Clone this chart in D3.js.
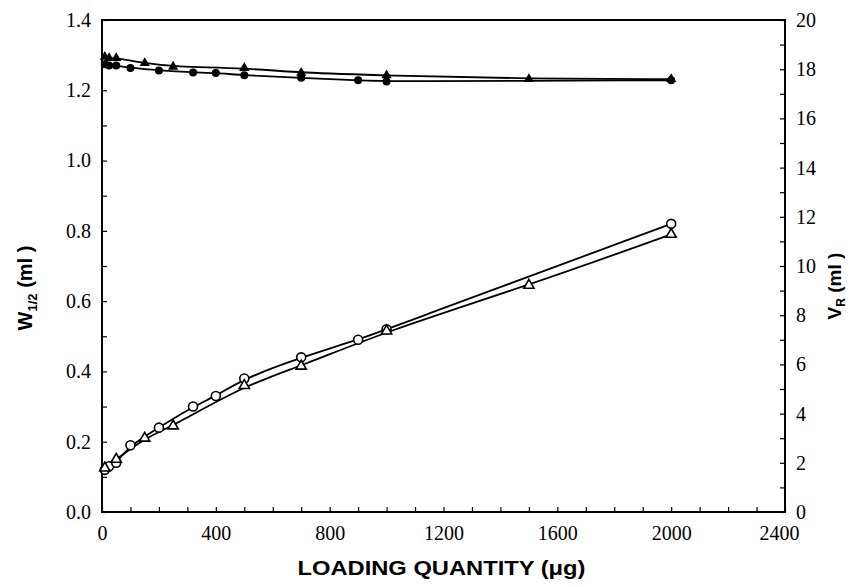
<!DOCTYPE html>
<html>
<head>
<meta charset="utf-8">
<script src="https://cdn.jsdelivr.net/npm/d3@7"></script>
<style>
  body { margin: 0; background: #fff; }
</style>
</head>
<body>
<div id="chart-area"></div>
<script>
// W1/2 (left axis), open markers
var wCircX = [10, 25, 50, 100, 200, 320, 400, 500, 700, 900, 1000, 2000];
var wCircY = [0.12, 0.13, 0.14, 0.19, 0.24, 0.30, 0.33, 0.38, 0.44, 0.49, 0.52, 0.82];
var wTriX = [10, 50, 150, 250, 500, 700, 1000, 1500, 2000];
var wTriY = [0.125, 0.15, 0.21, 0.245, 0.36, 0.415, 0.515, 0.645, 0.79];
// VR (right axis), filled markers
var vCircX = [10, 25, 50, 100, 200, 320, 400, 500, 700, 900, 1000, 2000];
var vCircY = [18.2, 18.15, 18.15, 18.05, 17.95, 17.87, 17.85, 17.75, 17.65, 17.55, 17.5, 17.55];
var vTriX = [10, 25, 50, 150, 250, 500, 700, 1000, 1500, 2000];
var vTriY = [18.5, 18.45, 18.45, 18.25, 18.1, 18.05, 17.85, 17.75, 17.6, 17.6];

var xTicks = [0, 400, 800, 1200, 1600, 2000, 2400];
var leftTicks = [0.0, 0.2, 0.4, 0.6, 0.8, 1.0, 1.2, 1.4];
var rightTicks = [0, 2, 4, 6, 8, 10, 12, 14, 16, 18, 20];

var margin = {top: 20, right: 68, bottom: 75, left: 102},
    width = 853 - margin.left - margin.right,
    height = 587 - margin.top - margin.bottom;

var serif = "Liberation Serif, DejaVu Serif, Times New Roman, serif";
var sans = "Liberation Sans, Arial, sans-serif";

var svg = d3.select("#chart-area").append("svg")
    .attr("width", 853)
    .attr("height", 587)
    .append("g")
    .attr("transform", "translate(" + margin.left + "," + margin.top + ")");

var x = d3.scaleLinear().domain([0, 2400]).range([0, width]);
var yL = d3.scaleLinear().domain([0, 1.4]).range([height, 0]);
var yR = d3.scaleLinear().domain([0, 20]).range([height, 0]);

// minor ticks (inward, no labels)
svg.append("g")
    .attr("transform", "translate(0," + height + ")")
    .call(d3.axisBottom(x).tickValues(d3.range(0, 2401, 100)).tickSize(-5).tickFormat(""));
svg.append("g")
    .call(d3.axisLeft(yL).tickValues(d3.range(0, 15).map(function (i) { return i / 10; })).tickSize(-5).tickFormat(""));
svg.append("g")
    .attr("transform", "translate(" + width + ",0)")
    .call(d3.axisRight(yR).tickValues(d3.range(0, 21)).tickSize(-5).tickFormat(""));

// labelled axes
var xAxis = svg.append("g")
    .attr("transform", "translate(0," + height + ")")
    .call(d3.axisBottom(x).tickValues(xTicks).tickSize(0).tickPadding(14).tickFormat(d3.format("d")));
var lAxis = svg.append("g")
    .call(d3.axisLeft(yL).tickValues(leftTicks).tickSize(0).tickPadding(11).tickFormat(d3.format(".1f")));
var rAxis = svg.append("g")
    .attr("transform", "translate(" + width + ",0)")
    .call(d3.axisRight(yR).tickValues(rightTicks).tickSize(0).tickPadding(11));

[xAxis, lAxis, rAxis].forEach(function (g) {
    g.attr("font-family", null).attr("font-size", null);
    g.selectAll("text")
        .style("font-family", serif)
        .style("font-size", "20px")
        .style("fill", "#000");
});
// last bottom label sits slightly left, as in the original
xAxis.selectAll(".tick text").filter(function (d) { return d === 2400; }).attr("dx", -6);

svg.selectAll(".domain").remove();
svg.selectAll(".tick line").attr("stroke", "#000").attr("stroke-width", 1.2);

// frame
svg.append("rect")
    .attr("width", width)
    .attr("height", height)
    .attr("fill", "none")
    .attr("stroke", "#000")
    .attr("stroke-width", 2);

function series(xs, ys) {
    return xs.map(function (d, i) { return [d, ys[i]]; });
}
var wCirc = series(wCircX, wCircY), wTri = series(wTriX, wTriY);
var vCirc = series(vCircX, vCircY), vTri = series(vTriX, vTriY);

function lineFor(yScale) {
    return d3.line()
        .x(function (d) { return x(d[0]); })
        .y(function (d) { return yScale(d[1]); })
        .curve(d3.curveBasis);
}
[[wCirc, yL], [wTri, yL], [vCirc, yR], [vTri, yR]].forEach(function (s) {
    svg.append("path")
        .datum(s[0])
        .attr("d", lineFor(s[1]))
        .attr("fill", "none")
        .attr("stroke", "#000")
        .attr("stroke-width", 1.8);
});

var tri = d3.symbol().type(d3.symbolTriangle);

// open markers
svg.selectAll(".wc").data(wCirc).enter().append("circle")
    .attr("cx", function (d) { return x(d[0]); })
    .attr("cy", function (d) { return yL(d[1]); })
    .attr("r", 4.5)
    .attr("fill", "#fff").attr("stroke", "#000").attr("stroke-width", 1.6);
svg.selectAll(".wt").data(wTri).enter().append("path")
    .attr("d", tri.size(45))
    .attr("transform", function (d) { return "translate(" + x(d[0]) + "," + yL(d[1]) + ")"; })
    .attr("fill", "#fff").attr("stroke", "#000").attr("stroke-width", 1.6);

// filled markers
svg.selectAll(".vc").data(vCirc).enter().append("circle")
    .attr("cx", function (d) { return x(d[0]); })
    .attr("cy", function (d) { return yR(d[1]); })
    .attr("r", 4)
    .attr("fill", "#000");
svg.selectAll(".vt").data(vTri).enter().append("path")
    .attr("d", tri.size(45))
    .attr("transform", function (d) { return "translate(" + x(d[0]) + "," + yR(d[1]) + ")"; })
    .attr("fill", "#000");

// titles
svg.append("text")
    .attr("font-family", sans)
    .attr("font-weight", "bold")
    .attr("font-size", "21px")
    .attr("x", width / 2 - 2)
    .attr("y", height + 63)
    .attr("text-anchor", "middle")
    .attr("textLength", 288)
    .attr("lengthAdjust", "spacingAndGlyphs")
    .text("LOADING QUANTITY (\u03bcg)");

var lt = svg.append("text")
    .attr("font-family", sans)
    .attr("font-weight", "bold")
    .attr("font-size", "20px")
    .attr("transform", "translate(" + (-70) + "," + (height / 2 + 22) + ") rotate(-90)")
    .attr("text-anchor", "middle");
lt.append("tspan").text("W");
lt.append("tspan").attr("font-size", "13px").attr("dy", 5).text("1/2");
lt.append("tspan").attr("dy", -5).text(" (ml )");

var rt = svg.append("text")
    .attr("font-family", sans)
    .attr("font-weight", "bold")
    .attr("font-size", "19px")
    .attr("transform", "translate(" + (width + 56) + "," + (height / 2 + 20) + ") rotate(-90)")
    .attr("text-anchor", "middle");
rt.append("tspan").text("V");
rt.append("tspan").attr("font-size", "12px").attr("dy", 4).text("R");
rt.append("tspan").attr("dy", -4).text(" (ml )");
</script>
</body>
</html>
